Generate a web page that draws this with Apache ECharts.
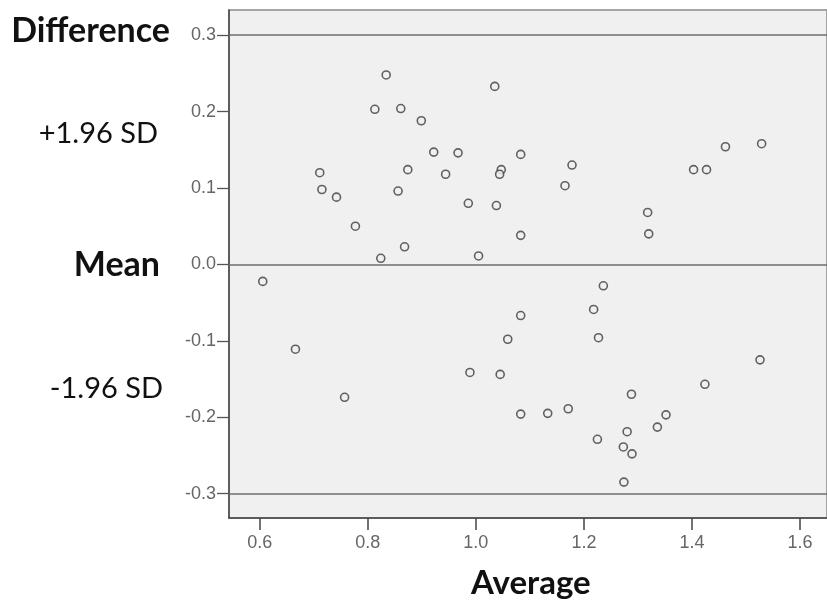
<!DOCTYPE html>
<html><head><meta charset="utf-8">
<script src="https://cdn.jsdelivr.net/npm/echarts@6/dist/echarts.min.js"></script>
<style>html,body{margin:0;padding:0;background:#fff}#c{width:827px;height:608px}</style>
</head><body><div id="c"></div>
<script>
// Average (x) values
var averages = [0.711,0.715,0.742,0.777,0.813,0.834,0.824,0.861,0.856,0.874,0.868,0.899,0.922,0.944,0.967,0.986,1.005,1.035,1.038,1.047,1.044,
 1.083,1.083,1.178,1.165,1.318,1.320,1.403,1.427,1.462,1.529,
 0.6055,0.666,0.757,0.989,1.045,
 1.236,1.218,1.083,1.059,1.227,1.526,1.424,1.288,1.083,1.133,1.171,1.352,1.336,1.280,1.225,1.273,1.289,1.274];
// Difference (y) values
var differences = [0.120,0.098,0.088,0.050,0.203,0.248,0.008,0.204,0.096,0.124,0.023,0.188,0.147,0.118,0.146,0.080,0.011,0.233,0.077,0.124,0.118,
 0.144,0.038,0.130,0.103,0.068,0.040,0.124,0.124,0.154,0.158,
 -0.0223,-0.111,-0.174,-0.1415,-0.144,
 -0.028,-0.059,-0.067,-0.098,-0.096,-0.125,-0.157,-0.170,-0.196,-0.195,-0.189,-0.197,-0.213,-0.219,-0.229,-0.239,-0.248,-0.285];
var xTicks = [0.6,0.8,1.0,1.2,1.4,1.6];
var yTicks = [-0.3,-0.2,-0.1,0.0,0.1,0.2,0.3];
var refLines = [0.2953, 0, -0.2953]; // +1.96 SD, mean, -1.96 SD
var sideLabels = ['Difference','+1.96 SD','Mean','-1.96 SD','Average'];

var pts = averages.map(function(a,i){return [a,differences[i]];});
var chart = echarts.init(document.getElementById('c'));
var labelFont = {color:'#666', fontFamily:'Liberation Sans, Arial', fontSize:18};
function txt(s, x, y, font, align){
  return {type:'text', x:x, y:y, style:{text:s, font:font, fill:'#111', align:align, verticalAlign:'middle', textAlign:align, textVerticalAlign:'middle'}};
}
chart.setOption({
  animation:false,
  grid:{left:229, top:10, width:600, height:508, show:true, backgroundColor:'#f0f0f0', borderColor:'#8a8a8a', borderWidth:1.5},
  xAxis:{type:'value', min:0.543, max:1.650,
    axisLine:{show:true, onZero:false, lineStyle:{color:'#444', width:1.5}},
    axisTick:{show:true, length:12, customValues:xTicks, lineStyle:{color:'#444', width:1.5}},
    axisLabel:Object.assign({customValues:xTicks, margin:16, formatter:function(v){return v.toFixed(1);}}, labelFont),
    splitLine:{show:false}},
  yAxis:{type:'value', min:-0.332, max:0.333,
    axisLine:{show:true, onZero:false, lineStyle:{color:'#444', width:1.5}},
    axisTick:{show:true, length:12, customValues:yTicks, lineStyle:{color:'#555', width:1.3}},
    axisLabel:Object.assign({customValues:yTicks, margin:13, formatter:function(v){return v.toFixed(1);}}, labelFont),
    splitLine:{show:false}},
  series:[{type:'scatter', data:pts, symbol:'circle', symbolSize:8,
    itemStyle:{color:'#f0f0f0', borderColor:'#3c3c3c', borderWidth:1.6},
    markLine:{silent:true, symbol:'none', label:{show:false},
      lineStyle:{color:'#6e6e6e', width:1.5, type:'solid'},
      data:refLines.map(function(v){return {yAxis:v};})}
  }],
  graphic:[
    txt(sideLabels[0], 170, 31, 'bold 34px Lato', 'right'),
    txt(sideLabels[1], 158, 134, '29px Lato', 'right'),
    txt(sideLabels[2], 160, 265, 'bold 34px Lato', 'right'),
    txt(sideLabels[3], 163, 389, '29px Lato', 'right'),
    txt(sideLabels[4], 471, 583, 'bold 33px Lato', 'left')
  ]
});
</script></body></html>
